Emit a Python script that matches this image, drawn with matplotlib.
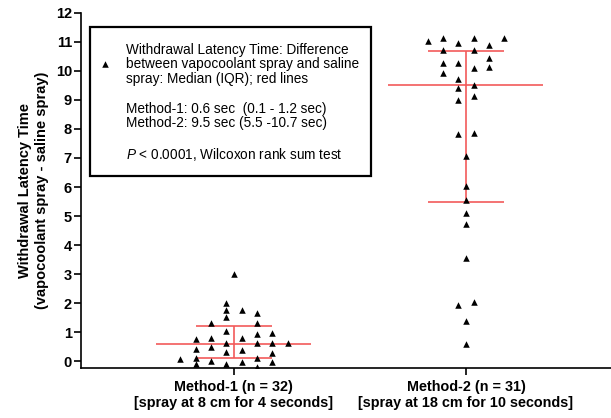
"""
    Withdrawal latency time difference: scatter of two methods with median / IQR lines.
"""
# Modules:
import matplotlib
matplotlib.use("Agg")
import matplotlib.pyplot as plt
from matplotlib.patches import Rectangle

plt.rcParams['font.family'] = ['Liberation Sans', 'DejaVu Sans']
plt.rcParams['mathtext.fontset'] = 'custom'
plt.rcParams['mathtext.it'] = 'Liberation Sans:italic'
plt.rcParams['mathtext.rm'] = 'Liberation Sans'

# Data:
groups = ["Method-1 (n = 32)\n[spray at 8 cm for 4 seconds]",
          "Method-2 (n = 31)\n[spray at 18 cm for 10 seconds]"]

# values, with their swarm column (slot) for each point
m1_values = [0.07,
             0.75, 0.40, 0.11, -0.10,
             1.30, 0.80, 0.47, 0.01,
             1.99, 1.76, 1.53, 1.04, 0.61, 0.32, -0.10,
             3.0,
             1.76, 0.78, 0.38, -0.02,
             1.67, 1.30, 0.93, 0.61, 0.11, -0.22,
             0.95, 0.61, 0.29, -0.02,
             0.63]
m1_slots = [-3.5,
            -2.5, -2.5, -2.5, -2.5,
            -1.5, -1.5, -1.5, -1.5,
            -0.5, -0.5, -0.5, -0.5, -0.5, -0.5, -0.5,
            0,
            0.5, 0.5, 0.5, 0.5,
            1.5, 1.5, 1.5, 1.5, 1.5, 1.5,
            2.5, 2.5, 2.5, 2.5,
            3.5]

m2_values = [11.05,
             11.15, 10.72, 10.29, 9.92,
             10.95, 10.29, 9.72, 9.40, 9.00, 7.83,
             7.07, 6.05, 5.55, 5.09, 4.72, 3.54, 1.38, 0.59,
             11.13, 10.72, 10.09, 9.52, 9.15, 7.85,
             10.90, 10.44, 10.15,
             11.15,
             1.93, 2.05]
m2_slots = [-2.5,
            -1.5, -1.5, -1.5, -1.5,
            -0.5, -0.5, -0.5, -0.5, -0.5, -0.5,
            0, 0, 0, 0, 0, 0, 0, 0,
            0.5, 0.5, 0.5, 0.5, 0.5, 0.5,
            1.5, 1.5, 1.5,
            2.5,
            -0.5, 0.5]

medians = [0.6, 9.5]
q1 = [0.1, 5.5]
q3 = [1.2, 10.7]

legend_lines = ["Withdrawal Latency Time: Difference",
                "between vapocoolant spray and saline",
                "spray: Median (IQR); red lines",
                "Method-1: 0.6 sec  (0.1 - 1.2 sec)",
                "Method-2: 9.5 sec (5.5 -10.7 sec)",
                "$P$ < 0.0001, Wilcoxon rank sum test"]
# baseline of each legend line, in axes fraction
legend_y = [0.8854, 0.8437, 0.8028, 0.7169, 0.6789, 0.5873]

slot_width = 0.066
red = '#f25a5a'

# Figure:
fig = plt.figure(figsize=(6.11, 4.18), dpi=100)
ax = fig.add_axes([0.1326, 0.1196, 0.8674, 0.8494])

for i, (vals, slots) in enumerate([(m1_values, m1_slots), (m2_values, m2_slots)]):
    xs = [i + s * slot_width for s in slots]
    ax.scatter(xs, vals, marker='^', s=22, color='black', linewidths=0, zorder=3)

    # median and IQR lines
    ax.hlines(medians[i], i - 0.334, i + 0.334, color=red, lw=1.2, zorder=2)
    ax.hlines([q1[i], q3[i]], i - 0.164, i + 0.164, color=red, lw=1.2, zorder=2)
    ax.vlines(i, q1[i], q3[i], color=red, lw=1.2, zorder=2)

ax.set_xlim(-0.659, 1.625)
ax.set_ylim(-0.24, 12)
ax.set_yticks(range(0, 13))
ax.set_xticks([0, 1])
ax.set_xticklabels(groups, fontweight='bold', fontsize=10.4, linespacing=1.15)
for lab in ax.get_yticklabels():
    lab.set_fontweight('bold')
    lab.set_fontsize(10.5)

ax.spines['top'].set_visible(False)
ax.spines['right'].set_visible(False)
for sp in ['left', 'bottom']:
    ax.spines[sp].set_linewidth(1.2)
ax.tick_params(axis='both', direction='out', length=5, width=1.2)
ax.tick_params(axis='x', pad=3.6)
ax.tick_params(axis='y', pad=1.5)

ax.set_ylabel("Withdrawal Latency Time\n(vapocoolant spray - saline spray)",
              fontweight='bold', fontsize=10.5, linespacing=1.25, labelpad=5)

# Legend box:
ax.add_patch(Rectangle((0.017, 0.5408), 0.5302, 0.4198, transform=ax.transAxes,
                       fill=False, lw=1.6, edgecolor='black', zorder=4, clip_on=False))
ax.scatter([0.0453], [0.8555], marker='^', s=22, color='black', linewidths=0,
           transform=ax.transAxes, clip_on=False)
for line, y in zip(legend_lines, legend_y):
    ax.text(0.0843, y, line, transform=ax.transAxes, fontsize=9.8,
            va='baseline', ha='left')

fig.savefig("out.png", dpi=100)
